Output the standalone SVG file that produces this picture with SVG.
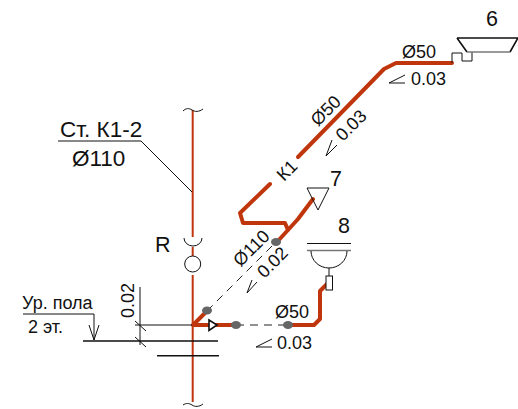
<svg xmlns="http://www.w3.org/2000/svg" width="518" height="409" viewBox="0 0 518 409">
<style>
text{font-family:"Liberation Sans",Arial,sans-serif;fill:#111}
.t21{font-size:21.5px}.t22{font-size:22.5px}.t18{font-size:18px}
.k{fill:none;stroke:#111;stroke-width:1}
.k15{fill:none;stroke:#111;stroke-width:1.6}
.g{fill:none;stroke:#777;stroke-width:1.6}
.r{fill:none;stroke:#c0360c;stroke-width:2}
.R{fill:none;stroke:#c0360c;stroke-width:4;stroke-linejoin:round;stroke-linecap:round}
.d{fill:none;stroke:#222;stroke-width:1;stroke-dasharray:8 6}
.dot{fill:#666}
</style>
<g id="connectors">
<path class="r" d="M192.7 110V237M192.7 247V256M192.7 275V402"/>
<path class="k" d="M58 141H141L192 192"/>
<path class="R" d="M270 184L240 213L243 223H285L288 230M277 242L288 230L298 219L313 199"/>
<path class="R" d="M298 157L384 69L396 63H452"/>
<path class="R" d="M193 325L207 311M193 325H236"/>
<path class="R" d="M288 325H314L320 319V291L328 283"/>
<path class="d" d="M207 311L277 241"/>
<path class="d" d="M236 325H288"/>
<path class="k" d="M135 325H192M140 287V345M135 321L146 331M135 337L146 347"/>
<path class="k15" d="M83 341H218M157 355.7H219"/>
<path class="k" d="M23 314H94V340M89 325L94 340L99 325"/>
<path class="k" d="M452 63V53H462V61H472V52"/>
</g>
<g id="riser-top"><path class="k" d="M183 111C186 108 189 108 192 110S199 112 203 109"/></g>
<g id="riser-bottom"><path class="k" d="M183 405C186 403 189 403 192 405S199 407 203 404"/></g>
<g id="node-R">
<path class="k" d="M184 238A9 8 0 0 0 202 238"/>
<circle cx="192.7" cy="264" r="8" fill="#fff" stroke="#111"/>
<text class="t21" x="155" y="252">R</text>
</g>
<g id="node-6">
<path class="k15" d="M457 38H518M457 38L467 52M518 38L510 52"/>
<path class="g" d="M467 52H510"/>
<text class="t21" x="486" y="26">6</text>
</g>
<g id="node-7">
<path d="M307 188H329L318 210Z" fill="none" stroke="#111"/>
<text class="t21" x="330" y="186">7</text>
</g>
<g id="node-8">
<path class="k" d="M307 243.5H351" stroke-width="1.4"/>
<path class="g" d="M307 250.5H351"/>
<path class="k" d="M311 251A18 17 0 0 0 347 251M329 268V276"/>
<rect x="326" y="276" width="6.5" height="14" fill="#fff" stroke="#111"/>
<text class="t21" x="338" y="233">8</text>
</g>
<g id="valve"><path d="M209 320V330.5L217 325Z" fill="#fff" stroke="#111" stroke-width="1.6"/></g>
<g id="dots">
<ellipse class="dot" cx="207" cy="310.5" rx="5" ry="4"/>
<ellipse class="dot" cx="236" cy="325" rx="5" ry="4"/>
<ellipse class="dot" cx="288" cy="325" rx="5" ry="4"/>
<ellipse class="dot" cx="276" cy="242" rx="5" ry="4"/>
</g>
<g id="labels">
<text class="t22" x="60" y="137">Ст. К1-2</text>
<text class="t22" x="72" y="166">Ø110</text>
<text class="t18" x="22" y="309">Ур. пола</text>
<text class="t18" x="28" y="333">2 эт.</text>
<text class="t18" transform="translate(134 318) rotate(-90)">0.02</text>
<text class="t18" x="402" y="58">Ø50</text>
<path class="k" d="M389 83H405M389 83L405 75"/>
<text class="t18" x="411" y="85">0.03</text>
<text class="t18" transform="translate(318 127) rotate(-45)">Ø50</text>
<path class="k" d="M337 145L326 156L332 140"/>
<text class="t18" transform="translate(343 142) rotate(-45)">0.03</text>
<text class="t18" transform="translate(284 182) rotate(-45)">К1</text>
<text class="t18" transform="translate(240.6 267.5) rotate(-45)">Ø110</text>
<path class="k" d="M257 282L247 293L252 280"/>
<text class="t18" transform="translate(264.4 279) rotate(-45)">0.02</text>
<text class="t18" x="275" y="318">Ø50</text>
<path class="k" d="M256 347H272M256 347L272 339"/>
<text class="t18" x="277" y="349">0.03</text>
</g>
</svg>
